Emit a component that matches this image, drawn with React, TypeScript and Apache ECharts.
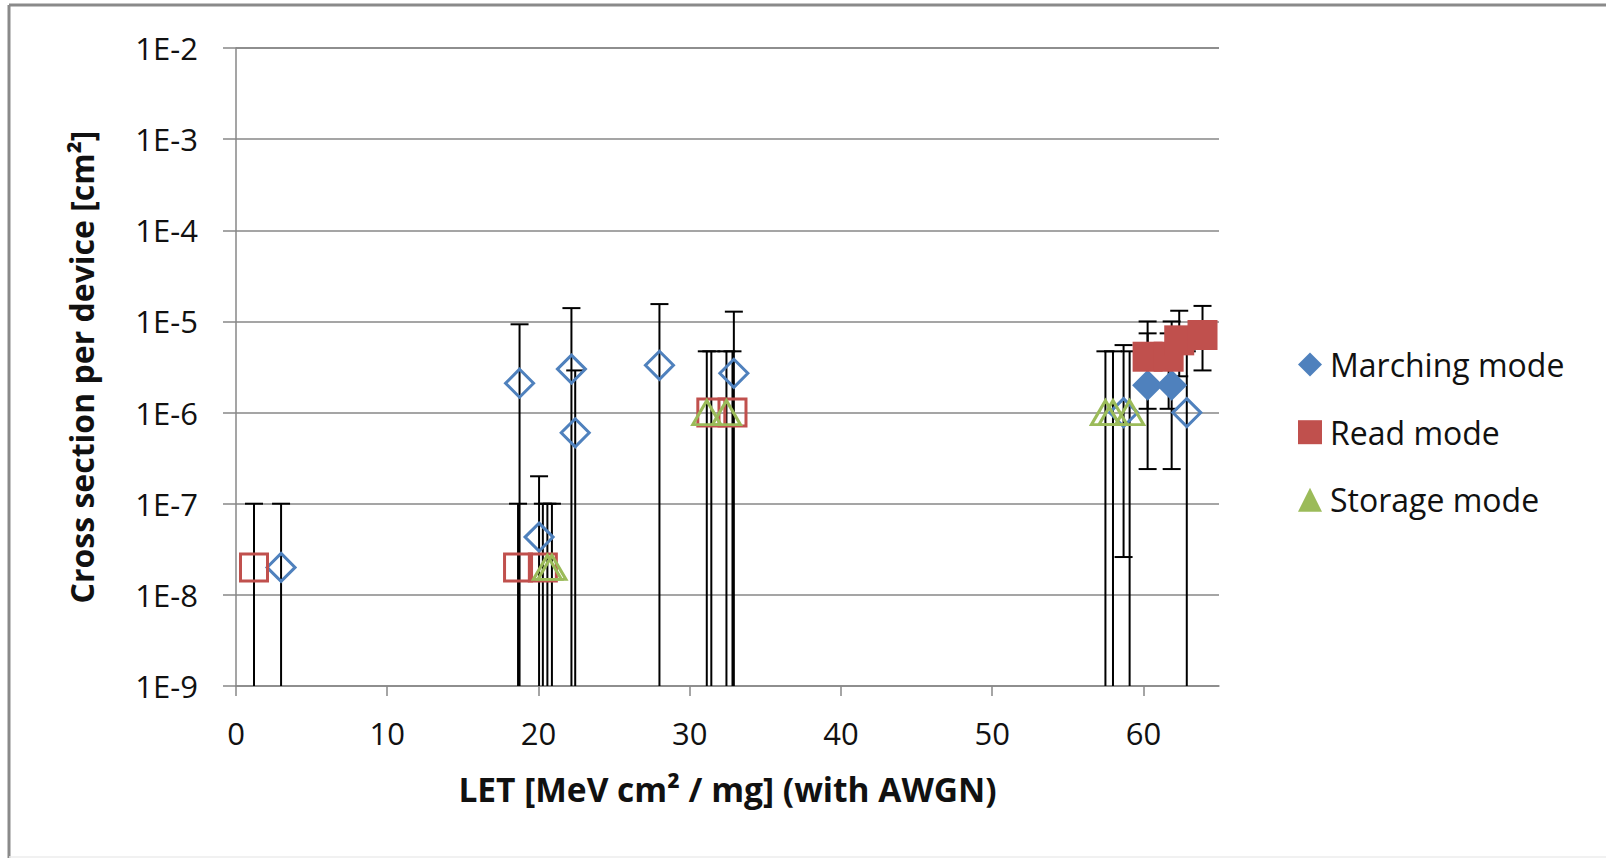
import React, { useEffect, useRef } from 'react';
import * as echarts from 'echarts';

// ---- axis definitions ----
const xTicks = [0, 10, 20, 30, 40, 50, 60];
const X_MIN = 0;
const X_MAX = 65;
const yTickLabels = ['1E-9', '1E-8', '1E-7', '1E-6', '1E-5', '1E-4', '1E-3', '1E-2'];
const Y_MIN = 1e-9;
const Y_MAX = 1e-2;

// ---- Marching mode ----
const marchingX = [2.98, 18.75, 20.04, 22.18, 22.43, 28.0, 32.92, 58.69, 60.28, 61.87, 62.87];
const marchingY = [2e-8, 2.1e-6, 4.3e-8, 3.0e-6, 6.0e-7, 3.3e-6, 2.7e-6, 1.0e-6, 2.0e-6, 2.0e-6, 1.0e-6];
const marchingLow = [null, null, null, null, null, null, null, 2.6e-8, 2.4e-7, 2.4e-7, null];
const marchingHigh = [1e-7, 9.3e-6, 2.0e-7, 1.4e-5, 2.9e-6, 1.55e-5, 1.28e-5, 5.5e-6, 1.0e-5, 1.0e-5, 4.7e-6];
const marchingFilled = [false, false, false, false, false, false, false, false, true, true, false];

// ---- Read mode ----
const readX = [1.19, 18.65, 20.29, 31.43, 32.83, 60.28, 61.67, 62.37, 63.91];
const readY = [2e-8, 2e-8, 2e-8, 1e-6, 1e-6, 4.1e-6, 4.1e-6, 6.2e-6, 7.1e-6];
const readLow = [null, null, null, null, null, 1.1e-6, 1.1e-6, 2.5e-6, 2.9e-6];
const readHigh = [1e-7, 1e-7, 1e-7, 4.7e-6, 4.7e-6, 7.4e-6, 7.4e-6, 1.31e-5, 1.48e-5];
const readFilled = [false, false, false, false, false, true, true, true, true];

// ---- Storage mode ----
const storageX = [20.59, 20.89, 31.13, 32.43, 57.49, 57.99, 59.09];
const storageY = [2e-8, 2e-8, 1e-6, 1e-6, 1e-6, 1e-6, 1e-6];
const storageLow = [null, null, null, null, null, null, null];
const storageHigh = [1e-7, 1e-7, 4.7e-6, 4.7e-6, 4.7e-6, 4.7e-6, 4.7e-6];
const storageFilled = [false, false, false, false, false, false, false];

const seriesNames = ['Marching mode', 'Read mode', 'Storage mode'];
const BLUE = '#4F81BD';
const RED = '#C0504D';
const GREEN = '#9BBB59';
const FONT = 'Open Sans';

function pointData(xs: number[], ys: number[], filled: boolean[], color: string, hollowSize: any) {
  return xs.map((x, i) =>
    filled[i]
      ? { value: [x, ys[i]] }
      : {
          value: [x, ys[i]],
          symbolSize: hollowSize,
          itemStyle: { color: 'rgba(255,255,255,0)', borderColor: color, borderWidth: 3 },
        }
  );
}

function errData(xs: number[], lows: (number | null)[], highs: number[]) {
  return xs.map((x, i) => [x, lows[i] == null ? Y_MIN : lows[i], highs[i]]);
}

const CAP = 9;
function renderErr(params: any, api: any) {
  const x = api.value(0);
  const lo = api.value(1);
  const hi = api.value(2);
  const cs = params.coordSys;
  const bottom = cs.y + cs.height;
  const pTop = api.coord([x, hi]);
  const px = pTop[0];
  const hasLow = lo > Y_MIN;
  const yLo = hasLow ? api.coord([x, lo])[1] : bottom;
  const style = { stroke: '#000', lineWidth: 2 };
  const children: any[] = [
    { type: 'line', shape: { x1: px, y1: pTop[1], x2: px, y2: yLo }, style },
    { type: 'line', shape: { x1: px - CAP, y1: pTop[1], x2: px + CAP, y2: pTop[1] }, style },
  ];
  if (hasLow) {
    children.push({ type: 'line', shape: { x1: px - CAP, y1: yLo, x2: px + CAP, y2: yLo }, style });
  }
  return { type: 'group', children };
}

export default function App() {
  const ref = useRef<HTMLDivElement>(null);
  useEffect(() => {
    if (!ref.current) return;
    const chart = echarts.init(ref.current, null, { renderer: 'svg' });
    const option: any = {
      animation: false,
      backgroundColor: '#fff',
      textStyle: { fontFamily: FONT },
      graphic: [
        { type: 'line', shape: { x1: 9, y1: 5, x2: 1606, y2: 5 }, style: { stroke: '#8a8a8a', lineWidth: 3 }, silent: true },
        { type: 'line', shape: { x1: 9, y1: 5, x2: 9, y2: 858 }, style: { stroke: '#8a8a8a', lineWidth: 3 }, silent: true },
        { type: 'line', shape: { x1: 9, y1: 857, x2: 1606, y2: 857 }, style: { stroke: '#ececec', lineWidth: 1.5 }, silent: true },
      ],
      grid: { left: 236, right: 387, top: 48, bottom: 172, outerBoundsMode: 'none' },
      legend: {
        orient: 'vertical',
        left: 1293,
        top: 343.6,
        itemGap: 35.6,
        itemWidth: 24,
        itemHeight: 24,
        data: seriesNames,
        textStyle: { fontFamily: FONT, fontSize: 32, color: '#111', padding: [0, 0, 0, 3] },
      },
      xAxis: {
        type: 'value',
        min: X_MIN,
        max: X_MAX,
        interval: 10,
        name: 'LET [MeV cm² / mg] (with AWGN)',
        nameLocation: 'middle',
        nameGap: 86,
        nameTextStyle: { fontFamily: FONT, fontSize: 33.5, fontWeight: 'bold', color: '#111' },
        axisLine: { show: true, lineStyle: { color: '#878787', width: 1.5 } },
        axisTick: { show: true, length: 10, lineStyle: { color: '#878787', width: 1.5 }, customValues: xTicks },
        axisLabel: {
          fontFamily: FONT,
          fontSize: 31,
          color: '#111',
          margin: 31,
          customValues: xTicks,
        },
        splitLine: { show: false },
      },
      yAxis: {
        type: 'log',
        logBase: 10,
        min: Y_MIN,
        max: Y_MAX,
        name: 'Cross section per device [cm²]',
        nameLocation: 'middle',
        nameGap: 139,
        nameTextStyle: { fontFamily: FONT, fontSize: 32, fontWeight: 'bold', color: '#111' },
        axisLine: { show: true, lineStyle: { color: '#878787', width: 1.5 } },
        axisTick: { show: true, length: 13, lineStyle: { color: '#878787', width: 1.5 } },
        axisLabel: {
          fontFamily: FONT,
          fontSize: 31,
          color: '#111',
          margin: 38,
          formatter: (v: number) => yTickLabels[Math.round(Math.log10(v)) + 9] ?? '',
        },
        splitLine: { show: true, lineStyle: { color: '#878787', width: 1.5 } },
      },
      series: [
        {
          type: 'custom',
          renderItem: renderErr,
          data: errData(marchingX, marchingLow, marchingHigh),
          encode: { x: 0, y: [1, 2] },
          z: 1,
          silent: true,
        },
        {
          type: 'custom',
          renderItem: renderErr,
          data: errData(readX, readLow, readHigh),
          encode: { x: 0, y: [1, 2] },
          z: 1,
          silent: true,
        },
        {
          type: 'custom',
          renderItem: renderErr,
          data: errData(storageX, storageLow, storageHigh),
          encode: { x: 0, y: [1, 2] },
          z: 1,
          silent: true,
        },
        {
          name: seriesNames[0],
          type: 'scatter',
          symbol: 'diamond',
          symbolSize: 31,
          itemStyle: { color: BLUE, opacity: 1 },
          data: pointData(marchingX, marchingY, marchingFilled, BLUE, 28),
          z: 3,
        },
        {
          name: seriesNames[1],
          type: 'scatter',
          symbol: 'rect',
          symbolSize: 30,
          itemStyle: { color: RED, opacity: 1 },
          data: pointData(readX, readY, readFilled, RED, 27),
          z: 4,
        },
        {
          name: seriesNames[2],
          type: 'scatter',
          symbol: 'triangle',
          symbolSize: [29, 26],
          itemStyle: { color: GREEN, opacity: 1 },
          data: pointData(storageX, storageY, storageFilled, GREEN, [28, 24]),
          z: 5,
        },
      ],
    };
    chart.setOption(option);
    return () => chart.dispose();
  }, []);
  return (
    <div
      ref={ref}
      style={{ position: 'fixed', left: 0, top: 0, width: 1606, height: 858, background: '#fff' }}
    />
  );
}
